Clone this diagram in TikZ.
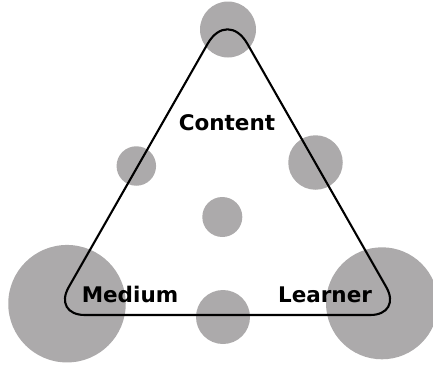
\documentclass[tikz,border=0pt]{standalone}
\usepackage{fontspec}
\setsansfont{DejaVu Sans}
\definecolor{dotgray}{RGB}{172,170,171}
\begin{document}
\begin{tikzpicture}[x=1pt,y=-1pt,
  dot/.style={circle, fill=dotgray, draw=none, inner sep=0pt},
  tri/.style={draw=black, line width=2.1pt, line join=round},
  lbl/.style={font=\sffamily\bfseries\fontsize{21.5}{24}\selectfont, text=black, anchor=base, inner sep=0pt}]
\useasboundingbox (0,0) rectangle (433,367);
% circles
\node[dot, minimum size=56pt] (ctop) at (228,29.5) {};
\node[dot, minimum size=39.5pt] (cleft) at (136.3,166) {};
\node[dot, minimum size=54.5pt] (cright) at (315.5,162.5) {};
\node[dot, minimum size=40pt] (ccenter) at (222.3,217) {};
\node[dot, minimum size=54pt] (cbottom) at (223,317) {};
\node[dot, minimum size=117.5pt] (cmedium) at (67,303.7) {};
\node[dot, minimum size=112pt] (clearner) at (382,303.3) {};
% triangle
\coordinate (apex) at (227.5,9);
\coordinate (bl) at (52.8,315);
\coordinate (br) at (402.2,315);
\coordinate (bmid) at (227.5,315);
\draw[tri] (bmid) [rounded corners=32pt] -- (br) [rounded corners=40pt] -- (apex) [rounded corners=32pt] -- (bl) -- cycle;
% labels
\node[lbl] (content) at (227,130) {Content};
\node[lbl] (medium) at (130,302.7) {Medium};
\node[lbl] (learner) at (325,302.7) {Learner};
\end{tikzpicture}
\end{document}
